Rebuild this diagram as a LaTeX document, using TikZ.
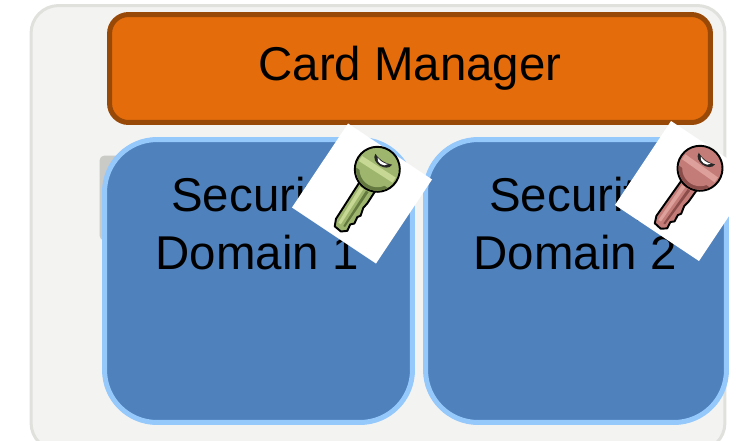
\documentclass[tikz,border=0pt]{standalone}
\usepackage{fontspec}
\setmainfont{Liberation Sans}
\usepackage{tikz}

\definecolor{paneledge}{HTML}{E0E0DD}
\definecolor{panelfill}{HTML}{F3F3F2}
\definecolor{cardfill}{HTML}{E46C0A}
\definecolor{carddraw}{HTML}{984807}
\definecolor{domainfill}{HTML}{4F81BD}
\definecolor{domaindraw}{HTML}{95C8FB}
\definecolor{greenkey}{HTML}{9DB56C}
\definecolor{greenlight}{HTML}{C6D893}
\definecolor{greendark}{HTML}{64793F}
\definecolor{redkey}{HTML}{C47C78}
\definecolor{redlight}{HTML}{DDA09A}
\definecolor{reddark}{HTML}{8A4D4A}

\tikzset{
    pics/keyicon/.style n args={3}{code={
        % shaft with teeth on the lower side
        \draw[fill=#1, draw=black, line width=1.1pt, line join=round]
            (14,8) -- (64,8) -- (71,5) -- (72,-3) -- (68,-8) -- (61,-7)
            -- (58,-10) -- (51,-9) -- (48,-11) -- (40,-9) -- (34,-10)
            -- (20,-10) -- (14,-12) -- cycle;
        \fill[#2] (24,1) -- (66,1) -- (66,4) -- (24,5) -- cycle;
        \fill[#3] (24,-5) -- (66,-4) -- (66,-2) -- (24,-2) -- cycle;
        % head
        \draw[fill=#1, draw=black, line width=1.1pt] (0,0) circle (22.5);
        \fill[#3] (10,-19) arc (-62:62:21.5) -- cycle;
        \fill[#1] (6,-17) arc (-70:70:18) -- cycle;
        \fill[#2] (-3,-20) -- (3,-20) -- (3,20) -- (-3,20) -- cycle;
        % slot
        \fill[black!85] (-12,-10) .. controls (-2,-10) and (-2,10) .. (-12,10)
            .. controls (-9,3) and (-9,-3) .. cycle;
        \fill[white] (-10,-6) .. controls (-5,-5) and (-5,5) .. (-10,6)
            .. controls (-8.5,2) and (-8.5,-2) .. cycle;
    }},
    domainbox/.style={draw=domaindraw, fill=domainfill, line width=0.1cm,
        rounded corners=1.05cm, minimum height=5.66cm, inner sep=0pt},
    keycard/.style={fill=white, rotate=-33.7, minimum size=2.02cm, inner sep=0pt},
    bigtext/.style={font=\fontsize{27}{33}\selectfont, align=center, inner sep=0pt}
}

\begin{document}
\begin{tikzpicture}[x=0.02cm, y=-0.02cm]
    \clip (0,0) rectangle (736,440);

    \node[draw=paneledge, fill=panelfill, line width=0.06cm, rounded corners=0.55cm,
        minimum width=13.88cm, minimum height=8.9cm, inner sep=0pt] (panel) at (378,228) {};
    \node[fill=paneledge!90!black, rounded corners=0.1cm, minimum width=0.5cm,
        minimum height=1.7cm, inner sep=0pt] (shadow) at (112,198) {};

    \node[draw=carddraw, fill=cardfill, line width=0.1cm, rounded corners=0.38cm,
        minimum width=12.02cm, minimum height=2.16cm, inner sep=0pt,
        font=\fontsize{27}{33}\selectfont] (card) at (410,68.5) {Card Manager};

    \node[domainbox, minimum width=6.16cm] (domain1) at (258.5,281) {};
    \node[domainbox, minimum width=6.02cm] (domain2) at (576,281) {};

    \node[bigtext] (label1) at (257,224) {Security\ \\Domain 1};
    \node[bigtext] (label2) at (575,224) {Security\ \\Domain 2};

    \node[keycard] (card1) at (362,193.5) {};
    \node[keycard] (card2) at (685,191) {};

    \pic[rotate=237.3] (key1) at (377.3,169.3) {keyicon={greenkey}{greenlight}{greendark}};
    \pic[rotate=234.6] (key2) at (700,168.3) {keyicon={redkey}{redlight}{reddark}};
\end{tikzpicture}
\end{document}
